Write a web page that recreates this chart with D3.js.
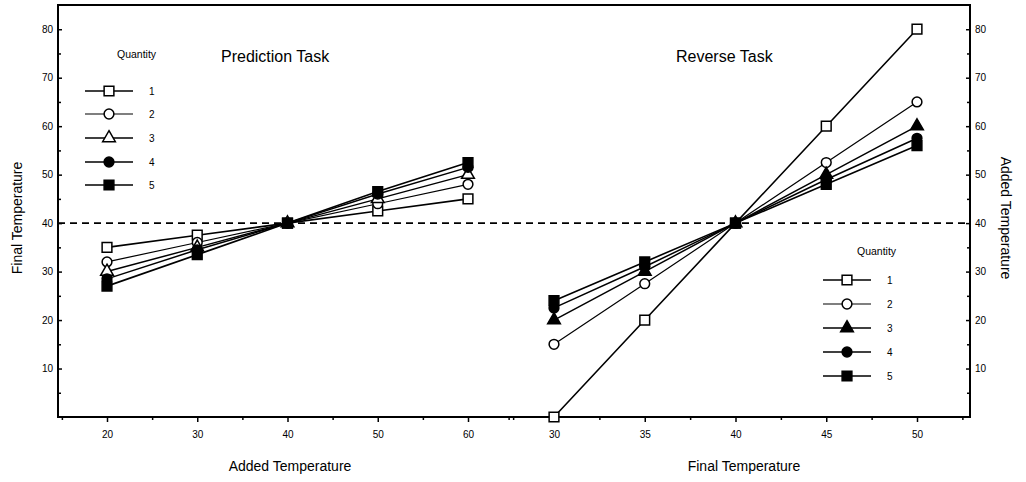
<!DOCTYPE html>
<html>
<head>
<meta charset="utf-8">
<script src="https://cdn.jsdelivr.net/npm/d3@7"></script>
<style>
  html, body { margin: 0; padding: 0; background: #fff; }
  svg { display: block; font-family: "Liberation Sans", Arial, sans-serif; }
</style>
</head>
<body>
<svg id="chart" width="1026" height="482"></svg>
<script>
// ---- data ----
const quantities = ["1", "2", "3", "4", "5"];
const predX = [20, 30, 40, 50, 60];
const predQ1 = [35, 37.5, 40, 42.5, 45];
const predQ2 = [32, 36, 40, 44, 48];
const predQ3 = [30, 35, 40, 45, 50];
const predQ4 = [28.5, 34.5, 40, 46, 51.5];
const predQ5 = [27, 33.5, 40, 46.5, 52.5];
const revX = [30, 35, 40, 45, 50];
const revQ1 = [0, 20, 40, 60, 80];
const revQ2 = [15, 27.5, 40, 52.5, 65];
const revQ3 = [20, 30, 40, 50, 60];
const revQ4 = [22.5, 31, 40, 49, 57.5];
const revQ5 = [24, 32, 40, 48, 56];
const yTicks = [10, 20, 30, 40, 50, 60, 70, 80];
const yMinor = [5, 15, 25, 35, 45, 55, 65, 75];
const predTicks = [20, 30, 40, 50, 60];
const predMinor = [15, 25, 35, 45, 55, 65];
const revTicks = [30, 35, 40, 45, 50];
const revMinor = [27.5, 32.5, 37.5, 42.5, 47.5, 52.5];
const refLine = 40;

// ---- layout ----
const svg = d3.select("#chart");
const L = 58, R = 970, T = 5, B = 417;
const y = d3.scaleLinear().domain([0, 85]).range([B, T]);
const xL = d3.scaleLinear().domain([20, 60]).range([107, 468]);
const xR = d3.scaleLinear().domain([30, 50]).range([554, 917]);

const predSeries = [predQ1, predQ2, predQ3, predQ4, predQ5];
const revSeries = [revQ1, revQ2, revQ3, revQ4, revQ5];
const shapes = [d3.symbolSquare, d3.symbolCircle, d3.symbolTriangle, d3.symbolCircle, d3.symbolSquare];
const sizes = [95, 75, 70, 75, 95];
const fillPred = ["#fff", "#fff", "#fff", "#000", "#000"];
const fillRev = ["#fff", "#fff", "#000", "#000", "#000"];
const widths = [1.6, 1.2, 1.5, 1.5, 1.6];

// frame
svg.append("rect").attr("x", L).attr("y", T).attr("width", R - L).attr("height", B - T)
  .attr("fill", "none").attr("stroke", "#000").attr("stroke-width", 2);

// left y axis (ticks inward)
const gL = svg.append("g").attr("transform", `translate(${L},0)`);
gL.call(d3.axisRight(y).tickValues(yTicks).tickSize(4).tickFormat(""))
  .call(g => g.select(".domain").remove());
gL.append("g").call(d3.axisRight(y).tickValues(yMinor).tickSize(3).tickFormat(""))
  .call(g => g.select(".domain").remove());
gL.selectAll("line").attr("stroke-width", 1.5);
gL.selectAll(".lab").data(yTicks).enter().append("text").attr("class", "lab")
  .attr("x", -5).attr("y", d => y(d)).attr("dy", "0.35em").attr("text-anchor", "end")
  .attr("fill", "#000").attr("font-family", "Liberation Sans, Arial, sans-serif")
  .attr("font-size", 10).text(d => d);

// right y axis
const gR = svg.append("g").attr("transform", `translate(${R},0)`);
gR.call(d3.axisLeft(y).tickValues(yTicks).tickSize(4).tickFormat(""))
  .call(g => g.select(".domain").remove());
gR.append("g").call(d3.axisLeft(y).tickValues(yMinor).tickSize(3).tickFormat(""))
  .call(g => g.select(".domain").remove());
gR.selectAll("line").attr("stroke-width", 1.5);
gR.selectAll(".lab").data(yTicks).enter().append("text").attr("class", "lab")
  .attr("x", 5).attr("y", d => y(d)).attr("dy", "0.35em").attr("text-anchor", "start")
  .attr("fill", "#000").attr("font-family", "Liberation Sans, Arial, sans-serif")
  .attr("font-size", 10).text(d => d);

// bottom axes
function bottomAxis(scale, major, minor) {
  const g = svg.append("g").attr("transform", `translate(0,${B})`);
  g.call(d3.axisBottom(scale).tickValues(major).tickSize(5).tickFormat(d3.format("d")))
    .call(g => g.select(".domain").remove());
  g.append("g").call(d3.axisBottom(scale).tickValues(minor).tickSize(3).tickFormat(""))
    .call(g => g.select(".domain").remove());
  g.selectAll("line").attr("stroke-width", 1.5);
  g.selectAll("text").attr("font-size", 10).attr("font-family", "Liberation Sans, Arial, sans-serif")
    .attr("fill", "#000").attr("dy", "1.3em");
}
bottomAxis(xL, predTicks, predMinor);
bottomAxis(xR, revTicks, revMinor);

// reference dashed line
svg.append("line").attr("x1", L).attr("x2", R).attr("y1", y(refLine)).attr("y2", y(refLine))
  .attr("stroke", "#000").attr("stroke-width", 1.6).attr("stroke-dasharray", "7,5");

// series
const line = d3.line();
function drawPanel(xs, series, xScale, fills) {
  series.forEach((vals, i) => {
    const pts = xs.map((xv, j) => [xScale(xv), y(vals[j])]);
    svg.append("path").attr("d", line(pts)).attr("fill", "none")
      .attr("stroke", "#000").attr("stroke-width", widths[i]);
  });
  series.forEach((vals, i) => {
    xs.forEach((xv, j) => {
      svg.append("path")
        .attr("d", d3.symbol().type(shapes[i]).size(sizes[i])())
        .attr("transform", `translate(${xScale(xv)},${y(vals[j])})`)
        .attr("fill", fills[i]).attr("stroke", "#000").attr("stroke-width", 1.5);
    });
  });
}
drawPanel(predX, predSeries, xL, fillPred);
drawPanel(revX, revSeries, xR, fillRev);

// legends
function legend(x0, titleX, titleY, rowYs, fills) {
  svg.append("text").attr("x", titleX).attr("y", titleY).attr("font-size", 10.5).text("Quantity");
  quantities.forEach((q, i) => {
    const yy = rowYs[i];
    svg.append("line").attr("x1", x0).attr("x2", x0 + 48).attr("y1", yy).attr("y2", yy)
      .attr("stroke", "#000").attr("stroke-width", widths[i]);
    svg.append("path").attr("d", d3.symbol().type(shapes[i]).size(sizes[i])())
      .attr("transform", `translate(${x0 + 24},${yy})`)
      .attr("fill", fills[i]).attr("stroke", "#000").attr("stroke-width", 1.5);
    svg.append("text").attr("x", x0 + 64).attr("y", yy).attr("dy", "0.35em")
      .attr("font-size", 10).text(q);
  });
}
legend(85, 117, 58, [91, 114, 138, 162, 185], fillPred);
legend(823, 857, 255, [280, 304, 328, 352, 376], fillRev);

// titles
svg.append("text").attr("x", 221).attr("y", 62).attr("font-size", 16).text("Prediction Task");
svg.append("text").attr("x", 676).attr("y", 62).attr("font-size", 16).text("Reverse Task");

// axis titles
svg.append("text").attr("x", 290).attr("y", 471).attr("text-anchor", "middle")
  .attr("font-size", 14).text("Added Temperature");
svg.append("text").attr("x", 744).attr("y", 471).attr("text-anchor", "middle")
  .attr("font-size", 14).text("Final Temperature");
svg.append("text").attr("transform", "translate(22,218) rotate(-90)").attr("text-anchor", "middle")
  .attr("font-size", 14).text("Final Temperature");
svg.append("text").attr("transform", "translate(1001,218) rotate(90)").attr("text-anchor", "middle")
  .attr("font-size", 14).text("Added Temperature");
</script>
</body>
</html>
